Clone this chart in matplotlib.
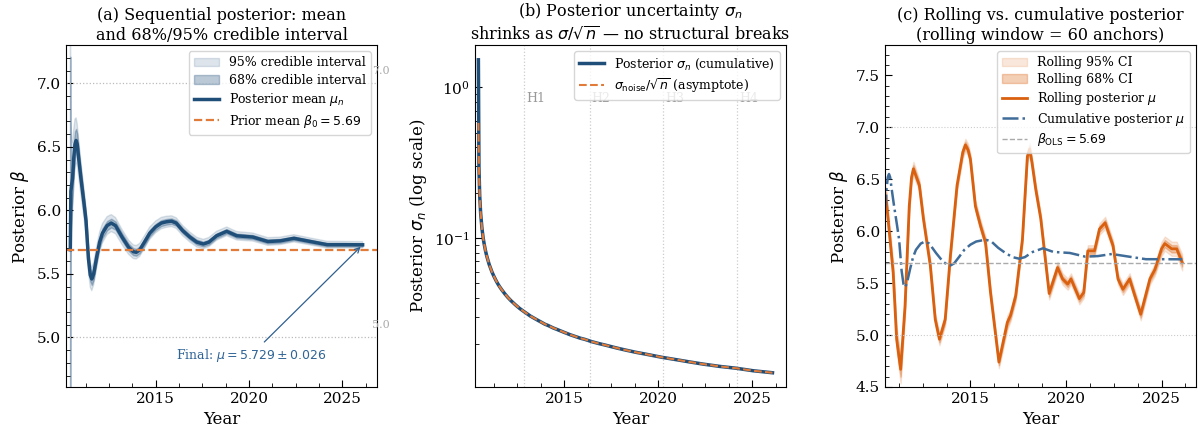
import matplotlib
matplotlib.use("Agg")
import matplotlib.pyplot as plt
from matplotlib.ticker import MultipleLocator, AutoMinorLocator, LogLocator

plt.rcParams["font.family"] = "serif"
plt.rcParams["font.serif"] = ["DejaVu Serif"]
plt.rcParams["mathtext.fontset"] = "dejavusans"

# cumulative posterior (panels a, b, c)
t_cum = [2010.43, 2010.46, 2010.50, 2010.55, 2010.62, 2010.68, 2010.74, 2010.80,
         2010.87, 2011.00, 2011.15, 2011.27, 2011.40, 2011.50, 2011.58, 2011.68,
         2011.85, 2012.00, 2012.15, 2012.40, 2012.62, 2012.85, 2013.20, 2013.55,
         2013.80, 2013.96, 2014.15, 2014.40, 2014.68, 2015.00, 2015.30, 2015.57,
         2015.85, 2016.10, 2016.45, 2016.83, 2017.20, 2017.55, 2017.85, 2018.26,
         2018.80, 2019.34, 2020.20, 2021.00, 2021.67, 2022.40, 2023.28, 2024.18,
         2025.05, 2026.08]
mu_cum = [5.69, 6.15, 6.20, 6.25, 6.42, 6.52, 6.55, 6.52,
          6.42, 6.25, 6.07, 5.92, 5.62, 5.49, 5.46, 5.50,
          5.64, 5.75, 5.82, 5.88, 5.90, 5.88, 5.79, 5.71,
          5.675, 5.67, 5.69, 5.75, 5.82, 5.87, 5.90, 5.91,
          5.915, 5.90, 5.84, 5.79, 5.75, 5.735, 5.75, 5.80,
          5.835, 5.80, 5.79, 5.755, 5.76, 5.78, 5.755, 5.73,
          5.73, 5.729]
sd_cum = [1.52, 0.292, 0.191, 0.146, 0.116, 0.101, 0.091, 0.0833,
          0.0764, 0.0671, 0.0597, 0.0553, 0.0514, 0.0489, 0.0472, 0.0453,
          0.0425, 0.0404, 0.0386, 0.0361, 0.0342, 0.0326, 0.0304, 0.0287,
          0.0276, 0.0269, 0.0263, 0.0254, 0.0246, 0.0237, 0.0229, 0.0223,
          0.0217, 0.0213, 0.0206, 0.0200, 0.0195, 0.0190, 0.0186, 0.0181,
          0.0175, 0.0170, 0.0162, 0.0156, 0.0151, 0.0146, 0.0141, 0.0137,
          0.0132, 0.0128]
asym = [0.58, 0.292, 0.191, 0.146, 0.116, 0.101, 0.091, 0.0833,
        0.0764, 0.0671, 0.0597, 0.0553, 0.0514, 0.0489, 0.0472, 0.0453,
        0.0425, 0.0404, 0.0386, 0.0361, 0.0342, 0.0326, 0.0304, 0.0287,
        0.0276, 0.0269, 0.0263, 0.0254, 0.0246, 0.0237, 0.0229, 0.0223,
        0.0217, 0.0213, 0.0206, 0.0200, 0.0195, 0.0190, 0.0186, 0.0181,
        0.0175, 0.0170, 0.0162, 0.0156, 0.0151, 0.0146, 0.0141, 0.0137,
        0.0132, 0.0128]
prior_mean = 5.69
breaks = [2012.88, 2016.36, 2020.28, 2024.20]
break_labels = ["H1", "H2", "H3", "H4"]

# rolling posterior (panel c)
t_roll = [2010.58, 2010.96, 2011.14, 2011.35, 2011.58, 2011.80, 2011.92, 2012.02, 2012.33,
          2012.54, 2012.90, 2013.16, 2013.38, 2013.68, 2013.95, 2014.30, 2014.60, 2014.74,
          2014.88, 2015.00, 2015.26, 2015.53, 2015.79, 2016.05, 2016.49, 2016.93, 2017.10,
          2017.37, 2017.72, 2017.98, 2018.10, 2018.22, 2018.42, 2018.68, 2019.12, 2019.56,
          2019.82, 2020.09, 2020.26, 2020.70, 2020.93, 2021.14, 2021.49, 2021.75, 2022.05,
          2022.46, 2022.72, 2022.98, 2023.33, 2023.60, 2023.91, 2024.39, 2024.65, 2025.00,
          2025.17, 2025.53, 2025.79, 2026.08]
mu_roll = [6.33, 5.60, 4.96, 4.67, 5.28, 6.24, 6.52, 6.60, 6.44,
           6.12, 5.67, 5.15, 4.96, 5.15, 5.76, 6.44, 6.76, 6.83,
           6.78, 6.69, 6.24, 6.05, 5.89, 5.41, 4.74, 5.12, 5.19,
           5.38, 5.92, 6.72, 6.79, 6.66, 6.40, 6.12, 5.40, 5.65,
           5.54, 5.49, 5.54, 5.35, 5.41, 5.81, 5.81, 6.02, 6.08,
           5.86, 5.54, 5.44, 5.54, 5.38, 5.20, 5.54, 5.63, 5.83,
           5.88, 5.83, 5.83, 5.70]
sd_roll = [0.05, 0.05, 0.06, 0.07, 0.05, 0.04, 0.035, 0.035, 0.03,
           0.03, 0.03, 0.03, 0.03, 0.03, 0.03, 0.03, 0.03, 0.03,
           0.03, 0.03, 0.03, 0.03, 0.03, 0.03, 0.03, 0.035, 0.03,
           0.03, 0.03, 0.03, 0.03, 0.03, 0.03, 0.03, 0.03, 0.028,
           0.028, 0.028, 0.028, 0.028, 0.028, 0.028, 0.028, 0.028, 0.03,
           0.028, 0.028, 0.028, 0.028, 0.028, 0.03, 0.028, 0.03, 0.035,
           0.035, 0.035, 0.035, 0.04]
beta_ols = 5.69

NAVY = "#1f4e79"
ORANGE = "#e07b39"
RORANGE = "#d9600f"
STEEL = "#3f6c98"


def lohi(m, s, k):
    return [a - k * b for a, b in zip(m, s)], [a + k * b for a, b in zip(m, s)]


def style(ax):
    ax.tick_params(which="both", direction="in", labelsize=11)
    ax.tick_params(which="major", length=5)
    ax.tick_params(which="minor", length=3)
    ax.xaxis.set_major_locator(MultipleLocator(5))
    ax.xaxis.set_minor_locator(AutoMinorLocator(4))
    ax.set_xlabel("Year", fontsize=12)


fig = plt.figure(figsize=(11.98, 4.36), dpi=100)
ax1 = fig.add_axes([0.0551, 0.1124, 0.2596, 0.784])
ax2 = fig.add_axes([0.3965, 0.1124, 0.2596, 0.784])
ax3 = fig.add_axes([0.7387, 0.1124, 0.2596, 0.784])

# (a)
lo95, hi95 = lohi(mu_cum, sd_cum, 1.96)
lo68, hi68 = lohi(mu_cum, sd_cum, 1.0)
ax1.fill_between(t_cum, lo95, hi95, color=NAVY, alpha=0.15, label="95% credible interval")
ax1.fill_between(t_cum, lo68, hi68, color=NAVY, alpha=0.30, label="68% credible interval")
ax1.plot(t_cum, mu_cum, color=NAVY, lw=2.5, label=r"Posterior mean $\mu_n$")
ax1.axhline(prior_mean, color=ORANGE, ls="--", lw=1.6, label=r"Prior mean $\beta_0 = 5.69$")
for lvl in (7.0, 5.0):
    ax1.axhline(lvl, color="#bbbbbb", ls=":", lw=0.9)
    ax1.text(0.985, lvl + 0.1, f"{lvl:.1f}", transform=ax1.get_yaxis_transform(),
             ha="left", va="center", fontsize=8, color="#aaaaaa")
ax1.annotate(r"Final: $\mu = 5.729 \pm 0.026$", xy=(t_cum[-1], mu_cum[-1]),
             xytext=(2020.1, 4.86), ha="center", va="center", fontsize=9, color="#2f6496",
             arrowprops=dict(arrowstyle="->", color="#2f5f8f", lw=0.9))
ax1.set_xlim(2010.2, 2026.85)
ax1.set_ylim(4.61, 7.30)
ax1.yaxis.set_major_locator(MultipleLocator(0.5))
ax1.yaxis.set_minor_locator(AutoMinorLocator(5))
style(ax1)
ax1.set_ylabel(r"Posterior $\beta$", fontsize=12)
ax1.set_title("(a) Sequential posterior: mean\nand 68%/95% credible interval", fontsize=11.5, pad=4)
ax1.legend(loc="upper right", fontsize=9, labelspacing=0.35)

# (b)
for b, lab in zip(breaks, break_labels):
    ax2.axvline(b, color="#cccccc", ls=":", lw=0.9)
    ax2.text(b + 0.1, 0.845, lab, transform=ax2.get_xaxis_transform(),
             ha="left", va="center", fontsize=9, color="#999999")
ax2.plot(t_cum, sd_cum, color=NAVY, lw=2.5, label=r"Posterior $\sigma_n$ (cumulative)")
ax2.plot(t_cum, asym, color=ORANGE, ls="--", lw=1.5,
         label=r"$\sigma_{\rm noise}/\sqrt{n}$ (asymptote)")
ax2.set_yscale("log")
ax2.set_xlim(2010.25, 2026.8)
ax2.set_ylim(0.0103, 1.9)
ax2.yaxis.set_minor_locator(LogLocator(base=10, subs=range(2, 10)))
ax2.yaxis.set_minor_formatter(plt.NullFormatter())
style(ax2)
ax2.set_ylabel(r"Posterior $\sigma_n$ (log scale)", fontsize=12)
ax2.set_title("(b) Posterior uncertainty $\\sigma_n$\nshrinks as $\\sigma/\\sqrt{n}$ \u2014 no structural breaks",
              fontsize=11.5, pad=4)
ax2.legend(loc="upper right", fontsize=9, labelspacing=0.35)

# (c)
rlo95, rhi95 = lohi(mu_roll, sd_roll, 1.96)
rlo68, rhi68 = lohi(mu_roll, sd_roll, 1.0)
ax3.fill_between(t_roll, rlo95, rhi95, color=RORANGE, alpha=0.15, label="Rolling 95% CI")
ax3.fill_between(t_roll, rlo68, rhi68, color=RORANGE, alpha=0.30, label="Rolling 68% CI")
ax3.plot(t_roll, mu_roll, color=RORANGE, lw=2.0, label=r"Rolling posterior $\mu$")
ax3.plot(t_cum, mu_cum, color=STEEL, ls="-.", lw=1.8, label=r"Cumulative posterior $\mu$")
ax3.axhline(beta_ols, color="#aaaaaa", ls="--", lw=1.0, label=r"$\beta_{\rm OLS} = 5.69$")
for lvl in (7.0, 5.0):
    ax3.axhline(lvl, color="#cccccc", ls=":", lw=0.8)
ax3.set_xlim(2010.53, 2026.8)
ax3.set_ylim(4.5, 7.79)
ax3.yaxis.set_major_locator(MultipleLocator(0.5))
ax3.yaxis.set_minor_locator(AutoMinorLocator(5))
style(ax3)
ax3.set_ylabel(r"Posterior $\beta$", fontsize=12)
ax3.set_title("(c) Rolling vs. cumulative posterior\n(rolling window = 60 anchors)", fontsize=11.5, pad=4)
ax3.legend(loc="upper right", fontsize=9, labelspacing=0.3)

fig.savefig("out.png", dpi=100)
